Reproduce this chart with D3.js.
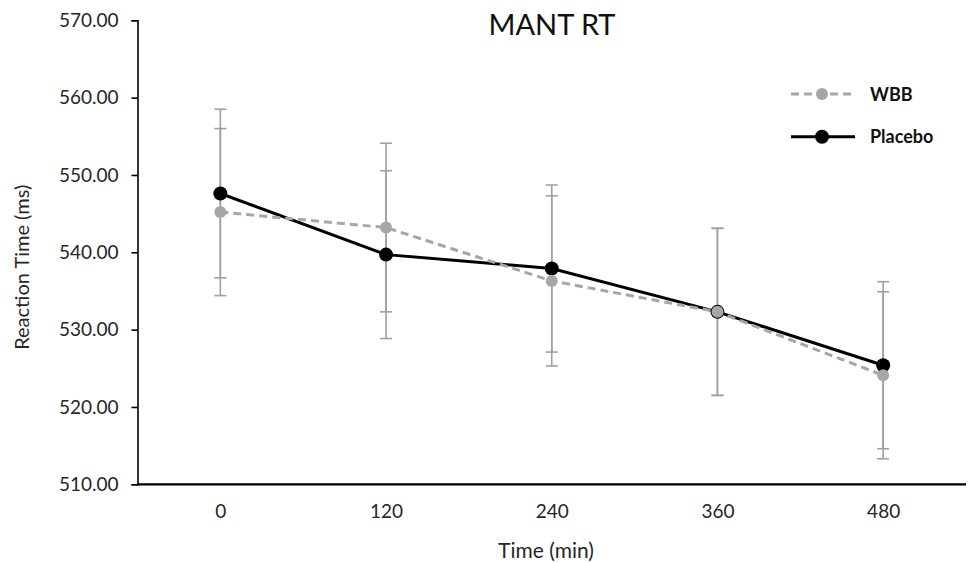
<!DOCTYPE html>
<html>
<head>
<meta charset="utf-8">
<script src="https://cdn.jsdelivr.net/npm/d3@7"></script>
<style>
  html, body { margin: 0; padding: 0; background: #fff; }
  svg { display: block; font-family: Lato, "Open Sans", sans-serif; }
</style>
</head>
<body>
<svg id="chart" width="968" height="563"></svg>
<script>
const categories = ["0", "120", "240", "360", "480"];
const yTicks = [510, 520, 530, 540, 550, 560, 570];
const wbbValues = [545.2, 543.2, 536.3, 532.3, 524.1];
const wbbErrors = [10.8, 10.9, 11.0, 10.8, 10.8];
const placeboValues = [547.6, 539.7, 537.9, 532.3, 525.4];
const placeboErrors = [10.9, 10.85, 10.8, 10.8, 10.8];
const seriesNames = ["WBB", "Placebo"];

const svg = d3.select("#chart");
const margin = { left: 137.5, right: 2, top: 20.3, bottom: 78.7 };
const W = 968, H = 563;

const x = d3.scalePoint().domain(categories)
  .range([margin.left, W - margin.right]).padding(0.5);
const y = d3.scaleLinear().domain([510, 570])
  .range([H - margin.bottom, margin.top]);

const errColor = "#a0a0a0";
const wbbColor = "#a6a6a6";
const textColor = "#262626";

// Y axis
const yAxis = svg.append("g")
  .attr("transform", `translate(${margin.left},0)`)
  .call(d3.axisLeft(y).tickValues(yTicks).tickSize(6).tickPadding(13)
    .tickFormat(d3.format(".2f")));
yAxis.select(".domain").attr("stroke", "#000").attr("stroke-width", 1.6);
yAxis.selectAll(".tick line").attr("stroke", "#000").attr("stroke-width", 1.6);
yAxis.selectAll("text").attr("font-size", 19).attr("fill", textColor)
  .attr("font-family", "Lato, sans-serif");

// X axis
const xAxis = svg.append("g")
  .attr("transform", `translate(0,${H - margin.bottom})`)
  .call(d3.axisBottom(x).tickSize(0).tickPadding(20));
xAxis.select(".domain").attr("stroke", "#000").attr("stroke-width", 2.2)
  .attr("d", `M${margin.left},0H${W - margin.right}`);
xAxis.selectAll("text").attr("font-size", 19).attr("fill", textColor)
  .attr("font-family", "Lato, sans-serif");

// Titles
svg.append("text").attr("x", 552).attr("y", 35)
  .attr("text-anchor", "middle").attr("font-size", 29).attr("fill", "#111")
  .text("MANT RT");
svg.append("text").attr("x", 546).attr("y", 558)
  .attr("text-anchor", "middle").attr("font-size", 21).attr("fill", textColor)
  .text("Time (min)");
svg.append("text")
  .attr("transform", `translate(29,${y(540) + 15}) rotate(-90)`)
  .attr("text-anchor", "middle").attr("font-size", 20).attr("fill", textColor)
  .text("Reaction Time (ms)");

const series = [
  { name: seriesNames[0], values: wbbValues, errors: wbbErrors, color: wbbColor, dash: "8,5", r: 6 },
  { name: seriesNames[1], values: placeboValues, errors: placeboErrors, color: "#000", dash: null, r: 7 }
];

// Error bars
const capW = 6;
series.forEach(s => {
  const g = svg.append("g").attr("stroke", errColor).attr("stroke-width", 1.6);
  categories.forEach((c, i) => {
    const cx = x(c), hi = y(s.values[i] + s.errors[i]), lo = y(s.values[i] - s.errors[i]);
    g.append("line").attr("x1", cx).attr("x2", cx).attr("y1", hi).attr("y2", lo);
    g.append("line").attr("x1", cx - capW).attr("x2", cx + capW).attr("y1", hi).attr("y2", hi);
    g.append("line").attr("x1", cx - capW).attr("x2", cx + capW).attr("y1", lo).attr("y2", lo);
  });
});

const line = d3.line().x((d, i) => x(categories[i])).y(d => y(d));

// Draw Placebo first, then WBB on top
[series[1], series[0]].forEach(s => {
  svg.append("path").datum(s.values)
    .attr("fill", "none").attr("stroke", s.color).attr("stroke-width", 3)
    .attr("stroke-dasharray", s.dash).attr("d", line);
  svg.append("g").selectAll("circle").data(s.values).join("circle")
    .attr("cx", (d, i) => x(categories[i])).attr("cy", d => y(d))
    .attr("r", s.r).attr("fill", s.color);
});

// Legend
const legendY = [94, 136.7];
series.forEach((s, i) => {
  const g = svg.append("g");
  g.append("line").attr("x1", 791).attr("x2", 855).attr("y1", legendY[i]).attr("y2", legendY[i])
    .attr("stroke", s.color).attr("stroke-width", 3).attr("stroke-dasharray", s.dash);
  g.append("circle").attr("cx", 822).attr("cy", legendY[i]).attr("r", s.r).attr("fill", s.color);
  g.append("text").attr("x", 870).attr("y", legendY[i] + 6.5)
    .attr("font-size", 18).attr("font-weight", "bold").attr("fill", "#111")
    .text(s.name);
});
</script>
</body>
</html>
